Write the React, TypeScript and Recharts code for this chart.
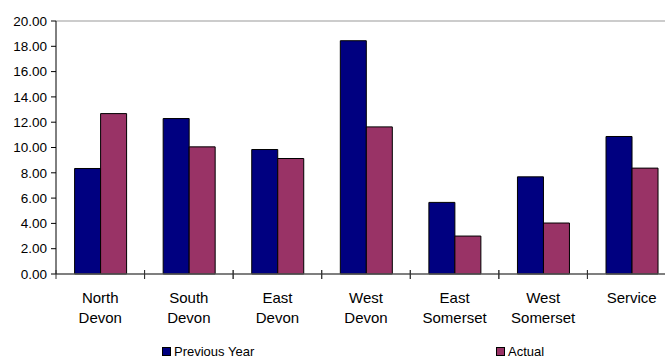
import { BarChart, Bar, XAxis, YAxis, ReferenceLine } from "recharts";

const regions = [
  "North Devon",
  "South Devon",
  "East Devon",
  "West Devon",
  "East Somerset",
  "West Somerset",
  "Service",
];
const previousYear = [8.34, 12.29, 9.84, 18.44, 5.66, 7.68, 10.87];
const actual = [12.68, 10.05, 9.13, 11.63, 3.0, 4.03, 8.37];
const yTicks = [0, 2, 4, 6, 8, 10, 12, 14, 16, 18, 20];

const data = regions.map((region, i) => ({
  region,
  previousYear: previousYear[i],
  actual: actual[i],
}));

const CHART_W = 700;
const CHART_H = 358;
const Y_AXIS_W = 56;
const MARGIN = { top: 21, right: 24, left: 0, bottom: 0 };
const BAND = (CHART_W - Y_AXIS_W - MARGIN.left - MARGIN.right) / regions.length;

const NAVY = "#000080";
const PLUM = "#993366";
const FONT = "Arial, 'Liberation Sans', sans-serif";

// category label split over two lines, plus cross tick marks between categories
function RegionTick(props: any) {
  const { x, y, payload } = props;
  const words = String(payload.value).split(" ");
  return (
    <g>
      <line x1={x - BAND / 2} x2={x - BAND / 2} y1={y - 4} y2={y + 5} stroke="#333" />
      <line x1={x + BAND / 2} x2={x + BAND / 2} y1={y - 4} y2={y + 5} stroke="#333" />
      <text textAnchor="middle" fontSize={15} fontFamily={FONT} fill="#000">
        {words.map((w, i) => (
          <tspan key={i} x={x} y={y + 29 + i * 20}>
            {w}
          </tspan>
        ))}
      </text>
    </g>
  );
}

function LegendItem({ left, color, label }: { left: number; color: string; label: string }) {
  return (
    <div style={{ position: "absolute", left, top: 344, display: "flex", alignItems: "center" }}>
      <div
        style={{
          width: 7,
          height: 7,
          background: color,
          border: "1px solid #000",
          marginRight: 3,
        }}
      />
      <span style={{ fontSize: 13, fontFamily: FONT, lineHeight: "15px", color: "#000" }}>{label}</span>
    </div>
  );
}

export default function App() {
  return (
    <div
      style={{
        position: "fixed",
        left: 0,
        top: 0,
        width: 665,
        height: 358,
        overflow: "hidden",
        background: "#fff",
      }}
    >
      <BarChart
        width={CHART_W}
        height={CHART_H}
        data={data}
        margin={MARGIN}
        barCategoryGap="21%"
        barGap={0}
      >
        <ReferenceLine y={20} stroke="#999" strokeWidth={1} />
        <XAxis
          dataKey="region"
          height={84}
          interval={0}
          tickLine={false}
          tickSize={0}
          tickMargin={0}
          axisLine={{ stroke: "#555", strokeWidth: 1.5 }}
          tick={<RegionTick />}
        />
        <YAxis
          width={Y_AXIS_W}
          domain={[0, 20]}
          ticks={yTicks}
          interval={0}
          tickSize={5}
          tickMargin={4}
          axisLine={{ stroke: "#000" }}
          tickLine={{ stroke: "#000" }}
          tick={{ fontSize: 13.5, fontFamily: FONT, fill: "#000" }}
          tickFormatter={(v: number) => v.toFixed(2)}
        />
        <Bar dataKey="previousYear" fill={NAVY} stroke="#000" strokeWidth={1} isAnimationActive={false} />
        <Bar dataKey="actual" fill={PLUM} stroke="#000" strokeWidth={1} isAnimationActive={false} />
      </BarChart>
      <LegendItem left={162} color={NAVY} label="Previous Year" />
      <LegendItem left={496} color={PLUM} label="Actual" />
    </div>
  );
}
